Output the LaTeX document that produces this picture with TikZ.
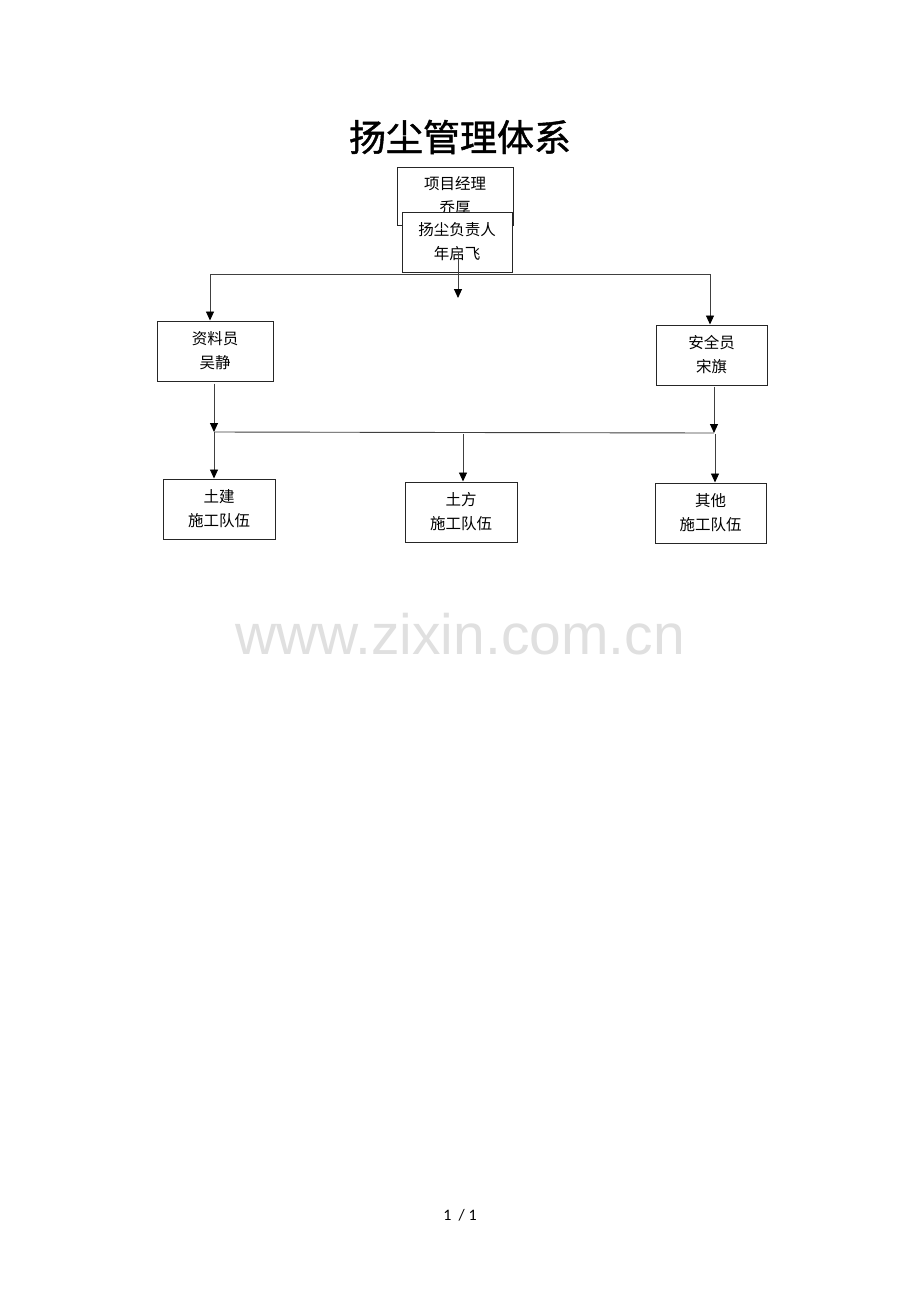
\documentclass[tikz,border=0pt]{standalone}
\usepackage{fontspec}
\newfontfamily\cjk{Noto Sans CJK SC}
\newfontfamily\cjktitle[FakeBold=1.2]{Noto Sans CJK SC}
\newfontfamily\wmfont{Liberation Sans}
\newfontfamily\pgfont{Carlito}
\usetikzlibrary{arrows.meta}
\begin{document}
\begin{tikzpicture}[x=1pt,y=-1pt,
  box/.style={draw=black!85,line width=1pt,fill=white,minimum width=#1,inner sep=0pt,align=center,font=\cjk\fontsize{15.5}{24}\selectfont},
  box/.default=112pt,
  conn/.style={draw=black!75,line width=0.9pt},
  arr/.style={conn,-{Triangle[length=9pt,width=8pt,fill=black,color=black]}}]
\useasboundingbox (0,0) rectangle (920,1302);
\fill[white] (0,0) rectangle (920,1302);
% title
\node[font=\cjktitle\fontsize{37}{40}\selectfont] (title) at (460,137) {扬尘管理体系};
% boxes
\node[box=116pt,minimum height=58pt] (pm) at (455,196) {项目经理\\乔厚};
\node[box=110pt,minimum height=60pt] (dust) at (457,242) {扬尘负责人\\年启飞};
\node[box=116pt,minimum height=60pt] (zl) at (215,351) {资料员\\吴静};
\node[box=111pt,minimum height=60pt] (aq) at (711.5,355) {安全员\\宋旗};
\node[box=112pt,minimum height=60pt] (tj) at (219,509) {土建\\施工队伍};
\node[box=112pt,minimum height=60pt] (tf) at (461,512) {土方\\施工队伍};
\node[box=111pt,minimum height=60pt] (qt) at (710.5,513) {其他\\施工队伍};
% first bar
\coordinate (b1L) at (210,274);
\coordinate (b1R) at (710,274);
\coordinate (mTop) at (458,252);
\coordinate (mEnd) at (458,298);
\draw[conn] (b1L) -- (b1R);
\draw[arr] (mTop) -- (mEnd);
\draw[arr] (b1L) -- (b1L |- zl.north);
\draw[arr] (b1R) -- (b1R |- aq.north);
% second bar
\coordinate (b2L) at (214,432);
\coordinate (b2R) at (714,433);
\draw[conn] (b2L) -- (b2R);
\draw[arr] (zl.south -| b2L) ++(0,2) -- (b2L);
\draw[arr] (aq.south -| b2R) ++(0,1) -- (b2R);
\draw[arr] (b2L) -- (b2L |- tj.north);
\coordinate (mid2) at (463,434);
\draw[arr] (mid2) -- (mid2 |- tf.north);
\coordinate (r2) at (715,434);
\draw[arr] (r2) -- (r2 |- qt.north);
% watermark
\node[font=\wmfont\fontsize{57}{60}\selectfont,text=black!12] (wm) at (460,634) {www.zixin.com.cn};
% page number
\node[font=\pgfont\fontsize{16}{18}\selectfont] (pg) at (460,1215) {1 \ / 1};
\end{tikzpicture}
\end{document}
